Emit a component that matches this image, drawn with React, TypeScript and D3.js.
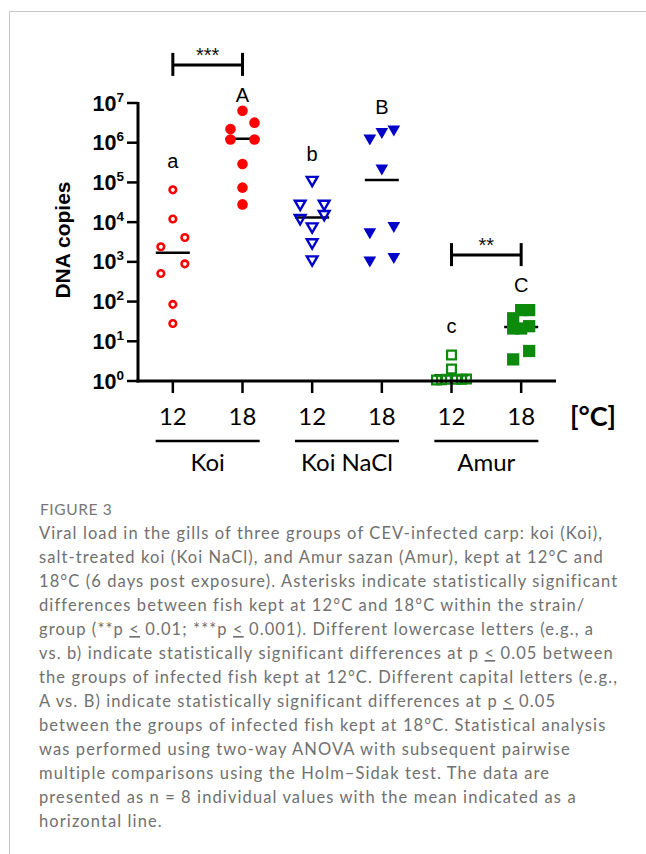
import * as d3 from 'd3';

// columns: strain x temperature
const columns = ['Koi 12', 'Koi 18', 'Koi NaCl 12', 'Koi NaCl 18', 'Amur 12', 'Amur 18'];
const tempLabels = ['12', '18', '12', '18', '12', '18'];
const groups = ['Koi', 'Koi NaCl', 'Amur'];

// DNA copies per fish (n = 8)
const koi12 = [6.5e4, 1.2e4, 4.1e3, 2.4e3, 8.9e2, 5.1e2, 85, 28];
const koi18 = [6.4e6, 3.2e6, 2.2e6, 1.2e6, 1.2e6, 2.9e5, 7.4e4, 2.8e4];
const nacl12 = [1.15e5, 2.9e4, 2.9e4, 1.6e4, 1.26e4, 7.8e3, 3.1e3, 1.15e3];
const nacl18 = [2.2e6, 1.9e6, 1.3e6, 2.3e5, 8.1e3, 5.7e3, 1.35e3, 1.1e3];
const amur12 = [4.5, 2.0, 1.12, 1.1, 1.08, 1.1, 1.06, 1.1];
const amur18 = [61, 61, 38, 24, 21, 21, 5.7, 3.5];
const seriesValues = [koi12, koi18, nacl12, nacl18, amur12, amur18];

const means = [1.7e3, 1.26e6, 1.3e4, 1.15e5, 1.4, 23];

const letters = ['a', 'A', 'b', 'B', 'c', 'C'];
const letterLevels = [2.3e5, 1.07e7, 3.5e5, 5.2e6, 16.6, 170];

const bracketPairs = [[0, 1], [4, 5]];
const bracketLevels = [9.1e7, 1.48e3];
const bracketLabels = ['***', '**'];

const yExponents = [0, 1, 2, 3, 4, 5, 6, 7];

const captionTitle = 'FIGURE 3';
const captionLines = [
  'Viral load in the gills of three groups of CEV-infected carp: koi (Koi),',
  'salt-treated koi (Koi NaCl), and Amur sazan (Amur), kept at 12°C and',
  '18°C (6 days post exposure). Asterisks indicate statistically significant',
  'differences between fish kept at 12°C and 18°C within the strain/',
  'group (**p ≤ 0.01; ***p ≤ 0.001). Different lowercase letters (e.g., a',
  'vs. b) indicate statistically significant differences at p ≤ 0.05 between',
  'the groups of infected fish kept at 12°C. Different capital letters (e.g.,',
  'A vs. B) indicate statistically significant differences at p ≤ 0.05',
  'between the groups of infected fish kept at 18°C. Statistical analysis',
  'was performed using two-way ANOVA with subsequent pairwise',
  'multiple comparisons using the Holm\u2013Sidak test. The data are',
  'presented as n = 8 individual values with the mean indicated as a',
  'horizontal line.',
];

const RED = '#ff0000';
const BLUE = '#0000c8';
const GREEN = '#0c8a0c';

const markers = [
  { type: d3.symbolCircle, size: 34, fill: 'none', stroke: RED, sw: 2.6, flip: false, step: 12 },
  { type: d3.symbolCircle, size: 88, fill: RED, stroke: 'none', sw: 0, flip: false, step: 12 },
  { type: d3.symbolTriangle, size: 50, fill: 'none', stroke: BLUE, sw: 2.4, flip: true, step: 12 },
  { type: d3.symbolTriangle, size: 70, fill: BLUE, stroke: 'none', sw: 0, flip: true, step: 12 },
  { type: d3.symbolSquare, size: 78, fill: 'none', stroke: GREEN, sw: 2.2, flip: false, step: 5 },
  { type: d3.symbolSquare, size: 150, fill: GREEN, stroke: 'none', sw: 0, flip: false, step: 8 },
];

const AX = "'Liberation Sans', Arial, sans-serif";
const CAL = "Lato, 'Open Sans', sans-serif";

// spread points that share a row, GraphPad-like
function rowOffsets(ys: number[], rowH: number, step: number) {
  const order = d3.range(ys.length).sort((a, b) => ys[a] - ys[b]);
  const rows: number[][] = [];
  order.forEach(i => {
    const r = rows[rows.length - 1];
    if (r && ys[i] - ys[r[0]] < rowH) r.push(i);
    else rows.push([i]);
  });
  const off = new Array(ys.length).fill(0);
  rows.forEach(r => {
    const n = r.length;
    let slots: number[];
    if (n % 2) slots = d3.range(n).map(k => k - (n - 1) / 2);
    else slots = [...d3.range(-n / 2, 0), ...d3.range(1, n / 2 + 1)];
    slots.sort((a, b) => b - a);
    r.forEach((idx, k) => (off[idx] = slots[k] * step));
  });
  return off;
}

function CaptionLine({ text, y }: { text: string; y: number }) {
  const parts = text.split('≤');
  return (
    <text x={39} y={y} fontFamily={CAL} fontSize={16.5} letterSpacing={1.1} fill="#707070">
      {parts.map((p, i) => (
        <tspan key={i}>
          {p}
          {i < parts.length - 1 && <tspan textDecoration="underline">{'<'}</tspan>}
        </tspan>
      ))}
    </text>
  );
}

export default function App() {
  const y = d3.scaleLog().domain([1, 1e7]).range([381, 103]);
  const x = d3.scaleBand().domain(columns).range([138, 556]);
  const cx = (i: number) => (x(columns[i]) as number) + x.bandwidth() / 2;
  const axisY = y(1);

  return (
    <svg width={646} height={854} style={{ position: 'absolute', left: 0, top: 0, background: '#fff' }}>
      {/* frame */}
      <line x1={9.5} x2={646} y1={11.5} y2={11.5} stroke="#c8c8c8" />
      <line x1={9.5} x2={9.5} y1={11.5} y2={854} stroke="#c8c8c8" />

      {/* means (behind points) */}
      {means.map((m, i) => (
        <line key={'m' + i} x1={cx(i) - 17} x2={cx(i) + 17} y1={y(m)} y2={y(m)} stroke="#000" strokeWidth={2.5} />
      ))}

      {/* points */}
      {seriesValues.map((vals, i) => {
        const mk = markers[i];
        const ys = vals.map(v => y(v));
        const off = rowOffsets(ys, 10, mk.step);
        const path = d3.symbol().type(mk.type).size(mk.size)() as string;
        return (
          <g key={'s' + i}>
            {vals.map((v, j) => (
              <path
                key={j}
                d={path}
                transform={`translate(${cx(i) + off[j]},${ys[j]})${mk.flip ? ' rotate(180)' : ''}`}
                fill={mk.fill}
                stroke={mk.stroke}
                strokeWidth={mk.sw}
              />
            ))}
          </g>
        );
      })}

      {/* axes */}
      <line x1={138} x2={138} y1={axisY + 1.5} y2={y(1e7) - 1} stroke="#000" strokeWidth={3} />
      <line x1={136.5} x2={556} y1={axisY} y2={axisY} stroke="#000" strokeWidth={3} />
      {yExponents.map(e => (
        <g key={'yt' + e}>
          <line x1={127} x2={138} y1={y(10 ** e)} y2={y(10 ** e)} stroke="#000" strokeWidth={2.5} />
          <text x={124} y={y(10 ** e) + 7.5} textAnchor="end" fontFamily={AX} fontWeight="bold" fontSize={21.5}>
            10<tspan dy={-9} fontSize={13.5}>{e}</tspan>
          </text>
        </g>
      ))}
      {columns.map((c, i) => (
        <g key={'xt' + c}>
          <line x1={cx(i)} x2={cx(i)} y1={axisY} y2={axisY + 12} stroke="#000" strokeWidth={2.5} />
          <text x={cx(i)} y={425} textAnchor="middle" fontFamily={CAL} fontSize={24}>
            {tempLabels[i]}
          </text>
        </g>
      ))}
      {groups.map((g, k) => {
        const mid = (cx(2 * k) + cx(2 * k + 1)) / 2;
        return (
          <g key={'g' + g}>
            <line x1={mid - 52} x2={mid + 52} y1={441} y2={441} stroke="#000" strokeWidth={2.5} />
            <text x={mid} y={471} textAnchor="middle" fontFamily={CAL} fontSize={24}>
              {g}
            </text>
          </g>
        );
      })}
      <text x={570} y={426} fontFamily={CAL} fontWeight="bold" fontSize={27}>
        [°C]
      </text>
      <text transform="translate(70,240) rotate(-90)" textAnchor="middle" fontFamily={AX} fontWeight="bold" fontSize={21}>
        DNA copies
      </text>

      {/* letters */}
      {letters.map((l, i) => (
        <text key={'l' + i} x={cx(i)} y={y(letterLevels[i])} textAnchor="middle" fontFamily={AX} fontSize={20}>
          {l}
        </text>
      ))}

      {/* significance brackets */}
      {bracketPairs.map(([a, b], k) => {
        const by = y(bracketLevels[k]);
        return (
          <g key={'b' + k} stroke="#000" strokeWidth={3}>
            <line x1={cx(a)} x2={cx(b)} y1={by} y2={by} />
            <line x1={cx(a)} x2={cx(a)} y1={by - 12} y2={by + 11} />
            <line x1={cx(b)} x2={cx(b)} y1={by - 12} y2={by + 11} />
            <text x={(cx(a) + cx(b)) / 2} y={by - 3} textAnchor="middle" fontFamily={AX} fontSize={20} stroke="none" fill="#111">
              {bracketLabels[k]}
            </text>
          </g>
        );
      })}

      {/* caption */}
      <text x={40} y={515} fontFamily={CAL} fontSize={15.5} fill="#777" letterSpacing={0.6}>
        {captionTitle}
      </text>
      {captionLines.map((t, i) => (
        <CaptionLine key={i} text={t} y={539 + i * 24} />
      ))}
    </svg>
  );
}
